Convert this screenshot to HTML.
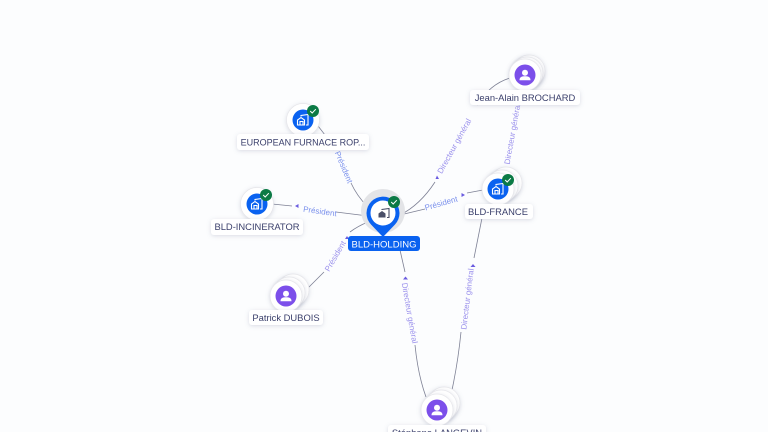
<!DOCTYPE html>
<html><head><meta charset="utf-8"><style>
html,body{margin:0;padding:0;background:#fcfdfe;width:768px;height:432px;overflow:hidden}
svg{display:block}
text{font-family:"Liberation Sans",sans-serif}
.n{font-size:9.4px;fill:#3a3f6b;text-anchor:middle}
.e{font-size:8px;fill:#9a90ec;text-anchor:middle}
.p{font-size:8px;fill:#7a90ec;text-anchor:middle}
.l{fill:none;stroke:#7d8094;stroke-width:.8}
.c{fill:#fff;stroke:#e6e6ea;stroke-width:.7}
</style></head><body>
<svg width="768" height="432" viewBox="0 0 768 432" xmlns="http://www.w3.org/2000/svg">
<defs>
<filter id="s" x="-30%" y="-40%" width="160%" height="190%"><feDropShadow dx="0" dy="1" stdDeviation="2" flood-color="#8890a8" flood-opacity=".3"/></filter>
<g id="chk"><circle r="6" fill="#0b7a45"/><path d="M-2.800 0 L-.8 2 L2.800 -1.800" fill="none" stroke="#fff" stroke-width="1"/></g>
<g id="co"><circle r="10.500" fill="#0a62f0"/><path d="M-5.500 5V0L-2 -2.500 1.500 0V5ZM-3 5V1.500H0V5" fill="none" stroke="#fff" stroke-width="1.100"/><path d="M-2 -3.500V-4.500L5 -5.500V5H3" fill="none" stroke="#fff" stroke-width="1.100"/></g>
<g id="pe"><circle r="10.500" fill="#7c4fea"/><circle cy="-2.200" r="3" fill="#fff"/><path d="M-5.500 5.300C-5.500 1.500-2.500 1.300 0 1.300S5.500 1.500 5.500 5.300Z" fill="#fff"/></g>
</defs>

<!-- connectors -->
<path class="l" d="M318 126Q328 138 334 150"/>
<path class="l" d="M351 183Q357 196 367 206"/>
<path class="l" d="M272 204L292 206"/>
<path class="l" d="M336 212L368 216"/>
<path class="l" d="M510 78Q490 84 477 105"/>
<path class="l" d="M435 182Q420 205 400 215"/>
<path class="l" d="M400 215L425 209"/>
<path class="l" d="M467 193L483 190"/>
<path class="l" d="M308 288L324 272"/>
<path class="l" d="M350 232Q358 226 368 222"/>
<path class="l" d="M400 250L405 272"/>
<path class="l" d="M415 345Q418 375 426 397"/>
<path class="l" d="M482 218L474 258"/>
<path class="l" d="M461 332Q458 362 452 390"/>

<!-- arrowheads -->
<g fill="#6a5be0">
<path d="M295 206L298.500 204V208Z"/>
<path d="M437 175.500L439 179H435.500Z"/>
<path d="M465 195L461.500 193V197Z"/>
<path d="M347 236L349 239H345Z"/>
<path d="M405.500 276.500L408 279.500H403Z"/>
<path d="M473 264L475.500 267H470.500Z"/>
</g>

<!-- connector labels -->
<text class="p" transform="translate(344 167) rotate(67)" y="3">Président</text>
<text class="p" transform="translate(320 211) rotate(8)" y="3">Président</text>
<text class="e" transform="translate(454 146) rotate(-61)" y="3">Directeur général</text>
<text class="e" transform="translate(512 134) rotate(-80)" y="3">Directeur général</text>
<text class="p" transform="translate(441 203) rotate(-16)" y="3">Président</text>
<text class="e" transform="translate(335 256) rotate(-60)" y="3">Président</text>
<text class="e" transform="translate(410 313) rotate(80)" y="3">Directeur général</text>
<text class="e" transform="translate(467 299) rotate(-83)" y="3">Directeur général</text>

<!-- European -->
<circle class="c" cx="303" cy="120" r="16.500" filter="url(#s)"/>
<use href="#co" x="303" y="120"/><use href="#chk" x="313" y="111"/>
<rect x="237" y="134" width="132" height="16" rx="3" fill="#fff" filter="url(#s)"/>
<text class="n" x="303" y="145.500" style="font-size:9px">EUROPEAN FURNACE ROP...</text>

<!-- Incinerator -->
<circle class="c" cx="257" cy="204" r="16.500" filter="url(#s)"/>
<use href="#co" x="257" y="204"/><use href="#chk" x="266" y="195"/>
<rect x="211" y="219" width="92" height="16" rx="3" fill="#fff" filter="url(#s)"/>
<text class="n" x="257" y="230">BLD-INCINERATOR</text>

<!-- Jean-Alain -->
<circle class="c" cx="529" cy="71" r="16" filter="url(#s)"/>
<circle class="c" cx="527" cy="73" r="16" filter="url(#s)"/>
<circle class="c" cx="525" cy="75" r="16" filter="url(#s)"/>
<use href="#pe" x="525" y="75"/>
<rect x="470" y="90" width="110" height="15" rx="3" fill="#fff" filter="url(#s)"/>
<text class="n" x="525" y="101">Jean-Alain BROCHARD</text>

<!-- BLD-France -->
<circle class="c" cx="506" cy="183" r="16" filter="url(#s)"/>
<circle class="c" cx="502" cy="186" r="16" filter="url(#s)"/>
<circle class="c" cx="498" cy="189" r="16" filter="url(#s)"/>
<use href="#co" x="498" y="189"/><use href="#chk" x="508" y="180"/>
<rect x="465" y="204" width="68" height="15" rx="3" fill="#fff" filter="url(#s)"/>
<text class="n" x="498" y="215">BLD-FRANCE</text>

<!-- Patrick -->
<circle class="c" cx="293" cy="290" r="16" filter="url(#s)"/>
<circle class="c" cx="289" cy="293" r="16" filter="url(#s)"/>
<circle class="c" cx="286" cy="296" r="16" filter="url(#s)"/>
<use href="#pe" x="286" y="296"/>
<rect x="249" y="310" width="74" height="15" rx="3" fill="#fff" filter="url(#s)"/>
<text class="n" x="286" y="321">Patrick DUBOIS</text>

<!-- Stephane -->
<circle class="c" cx="444" cy="403" r="16" filter="url(#s)"/>
<circle class="c" cx="441" cy="406" r="16" filter="url(#s)"/>
<circle class="c" cx="437" cy="410" r="16" filter="url(#s)"/>
<use href="#pe" x="437" y="410"/>
<rect x="388" y="425" width="98" height="16" rx="3" fill="#fff" filter="url(#s)"/>
<text class="n" x="437" y="436">Stéphane LANGEVIN</text>

<!-- Center -->
<circle cx="383" cy="211" r="22" fill="#e3e4e7"/>
<path d="M383 237L371 224.500A16.500 16.500 0 1 1 395 224.500Z" fill="#0a62f0"/>
<circle cx="383" cy="213" r="12.500" fill="#fff"/>
<path d="M378.500 217.500V213.500L382 211 385.500 213.500V217.500ZM381 217.500V215H383.500V217.500" fill="#4a4f68"/>
<path d="M382 210V209.500L389 208.500V217.500H387" fill="none" stroke="#4a4f68" stroke-width="1.100"/>
<use href="#chk" x="394" y="202"/>
<rect x="348" y="236" width="72" height="15" rx="3" fill="#0a62f0"/>
<text x="384" y="247.500" font-size="9.500" fill="#fff" text-anchor="middle">BLD-HOLDING</text>
</svg>
</body></html>
